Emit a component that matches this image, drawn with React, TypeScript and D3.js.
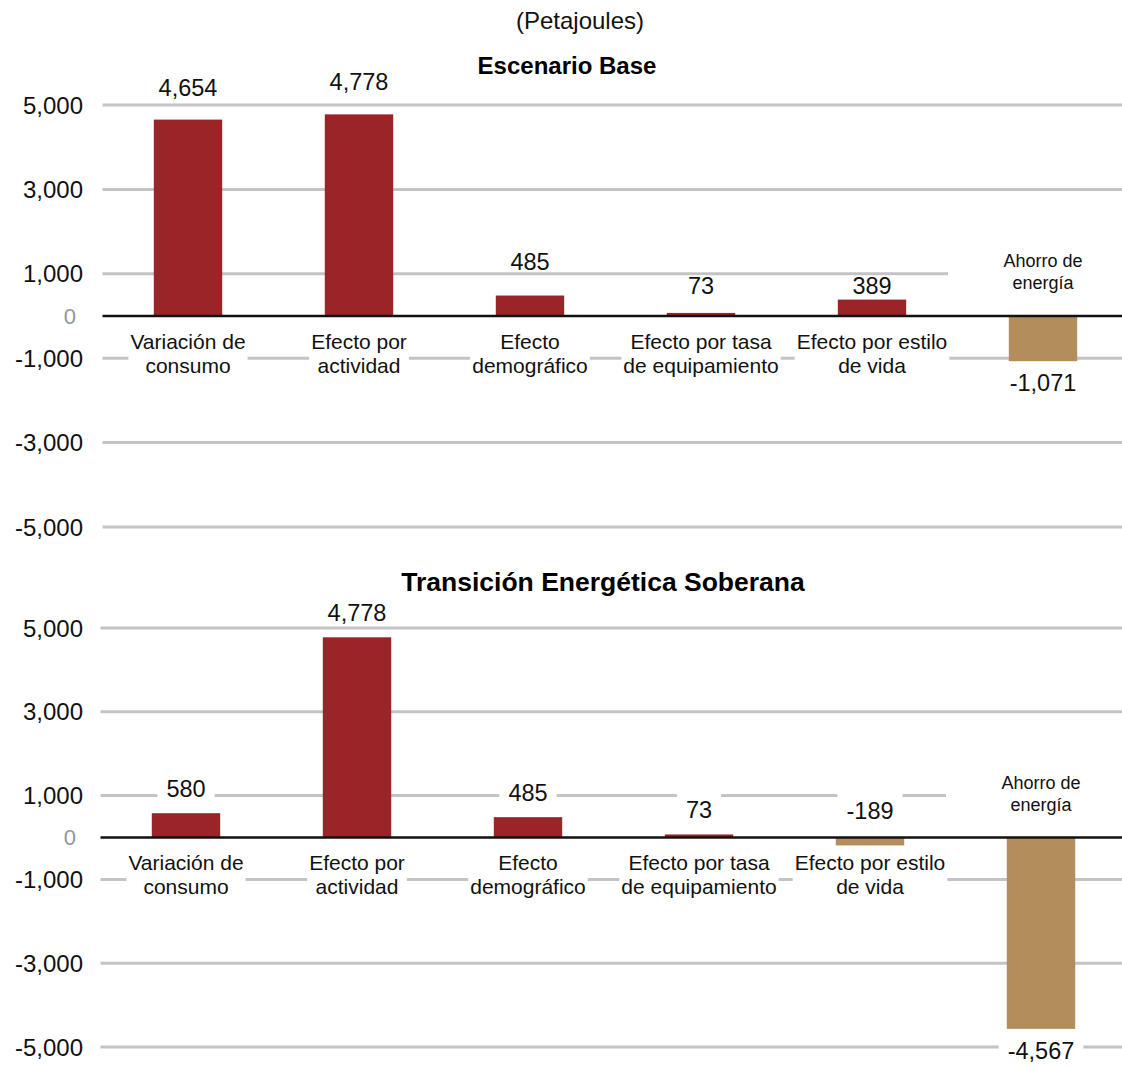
import { useEffect, useRef } from "react";
import * as d3 from "d3";

const categories = [
  "Variación de consumo",
  "Efecto por actividad",
  "Efecto demográfico",
  "Efecto por tasa de equipamiento",
  "Efecto por estilo de vida",
  "Ahorro de energía",
];
const categoryLines = [
  ["Variación de", "consumo"],
  ["Efecto por", "actividad"],
  ["Efecto", "demográfico"],
  ["Efecto por tasa", "de equipamiento"],
  ["Efecto por estilo", "de vida"],
  ["Ahorro de", "energía"],
];
const baseValues = [4654, 4778, 485, 73, 389, -1071];
const tesValues = [580, 4778, 485, 73, -189, -4567];
const yTicks = [5000, 3000, 1000, 0, -1000, -3000, -5000];

const unitLabel = "(Petajoules)";
const baseTitle = "Escenario Base";
const tesTitle = "Transición Energética Soberana";

const W = 1122;
const H = 1067;
const FONT = "'Liberation Sans', Arial, sans-serif";
const RED = "#9a2427";
const TAN = "#b38d5c";
const GRID = "#c4c4c4";

const fmt = d3.formatLocale({
  decimal: ".",
  thousands: ",",
  grouping: [3],
  currency: ["$", ""],
  minus: "-",
}).format(",");

interface PanelSpec {
  values: number[];
  x0: number;
  yTop: number;
  yBottom: number;
  labelGap: number;
  labelBoxes: boolean;
  title: string;
  titleX: number;
  titleY: number;
  titleSize: number;
}

function drawPanel(svg: d3.Selection<SVGSVGElement, unknown, null, undefined>, p: PanelSpec) {
  const g = svg.append("g");
  const x = d3.scaleBand<string>()
    .domain(categories)
    .range([p.x0, p.x0 + 1026])
    .paddingInner(0.6)
    .paddingOuter(0.3);
  const y = d3.scaleLinear().domain([-5000, 5000]).range([p.yBottom, p.yTop]);
  const last = categories.length - 1;
  const gridTicks = yTicks.filter((t) => t !== 0);

  // title
  g.append("text")
    .attr("x", p.titleX)
    .attr("y", p.titleY)
    .attr("text-anchor", "middle")
    .attr("dominant-baseline", "central")
    .style("font-family", FONT)
    .style("font-size", `${p.titleSize}px`)
    .style("font-weight", "bold")
    .style("fill", "#000")
    .text(p.title);

  // gridlines
  g.selectAll("line.grid")
    .data(gridTicks)
    .join("line")
    .attr("class", "grid")
    .attr("x1", p.x0)
    .attr("x2", W)
    .attr("y1", (d) => y(d))
    .attr("y2", (d) => y(d))
    .style("stroke", GRID)
    .style("stroke-width", 3);

  // tick labels
  g.selectAll("text.tick")
    .data(yTicks)
    .join("text")
    .attr("class", "tick")
    .attr("x", (d) => (d === 0 ? 76 : 83))
    .attr("y", (d) => y(d))
    .attr("text-anchor", "end")
    .attr("dominant-baseline", "central")
    .style("font-family", FONT)
    .style("font-size", (d) => (d === 0 ? "22px" : "24px"))
    .style("fill", (d) => (d === 0 ? "#8f96a0" : "#111"))
    .text((d) => fmt(d));

  const zero = y(0);

  // category labels (white boxes break the gridlines)
  const cats = g.selectAll("g.cat")
    .data(categories)
    .join("g")
    .attr("class", "cat")
    .attr("transform", (d, i) => {
      const cx = x(d)! + x.bandwidth() / 2;
      const cy = i === last ? zero - 44 : zero + 37;
      return `translate(${cx},${cy})`;
    });
  cats.each(function (d, i) {
    const c = d3.select(this);
    const lines = categoryLines[i];
    const size = i === last ? 18 : 21;
    const lh = i === last ? 22 : 24;
    const rect = c.append("rect").style("fill", "#fff");
    const t = c.append("text")
      .attr("text-anchor", "middle")
      .style("font-family", FONT)
      .style("font-size", `${size}px`)
      .style("fill", "#111");
    lines.forEach((ln, k) => {
      t.append("tspan")
        .attr("x", 0)
        .attr("y", (k - (lines.length - 1) / 2) * lh)
        .attr("dominant-baseline", "central")
        .text(ln);
    });
    const bb = (t.node() as SVGTextElement).getBBox();
    const wBox = i === last ? 190 : bb.width + 4;
    rect
      .attr("x", -wBox / 2)
      .attr("y", bb.y - 2)
      .attr("width", wBox)
      .attr("height", bb.height + 4);
  });

  // value label positions
  const labelY = (d: number, i: number) => {
    if (d < 0) return i < last ? zero - 27 : y(d) + 22;
    const barTop = y(d);
    let cy = barTop - p.labelGap;
    if (!p.labelBoxes) {
      // no boxes here: keep the label off the gridlines
      for (const t of gridTicks) {
        const gy = y(t);
        if (Math.abs(cy - gy) < 12) {
          cy = gy + 24 < barTop ? gy + 12 : gy - 12;
        }
      }
    }
    return cy;
  };

  const vals = g.selectAll("g.val")
    .data(p.values)
    .join("g")
    .attr("class", "val")
    .attr("transform", (d, i) => {
      const cx = x(categories[i])! + x.bandwidth() / 2;
      return `translate(${cx},${labelY(d, i)})`;
    });
  vals.each(function (d) {
    const c = d3.select(this);
    const rect = c.append("rect").style("fill", "#fff");
    const t = c.append("text")
      .attr("text-anchor", "middle")
      .attr("dominant-baseline", "central")
      .style("font-family", FONT)
      .style("font-size", "23.5px")
      .style("fill", "#111")
      .text(fmt(d));
    if (p.labelBoxes) {
      const bb = (t.node() as SVGTextElement).getBBox();
      rect
        .attr("x", bb.x - 9)
        .attr("y", -17)
        .attr("width", bb.width + 18)
        .attr("height", 29);
    } else {
      rect.remove();
    }
  });

  // bars
  g.selectAll("rect.bar")
    .data(p.values)
    .join("rect")
    .attr("class", "bar")
    .attr("x", (d, i) => x(categories[i])!)
    .attr("width", x.bandwidth())
    .attr("y", (d) => Math.min(y(d), zero))
    .attr("height", (d) => Math.abs(y(d) - zero))
    .style("fill", (d) => (d >= 0 ? RED : TAN));

  // zero line
  g.append("line")
    .attr("x1", p.x0)
    .attr("x2", W)
    .attr("y1", zero)
    .attr("y2", zero)
    .style("stroke", "#111")
    .style("stroke-width", 2.5);

  vals.raise();
}

export default function App() {
  const svgRef = useRef<SVGSVGElement>(null);

  useEffect(() => {
    if (!svgRef.current) return;
    const svg = d3.select(svgRef.current);
    svg.selectAll("*").remove();

    svg.append("rect").attr("width", W).attr("height", H).style("fill", "#fff");

    svg.append("text")
      .attr("x", 580)
      .attr("y", 20)
      .attr("text-anchor", "middle")
      .attr("dominant-baseline", "central")
      .style("font-family", FONT)
      .style("font-size", "24px")
      .style("fill", "#111")
      .text(unitLabel);

    drawPanel(svg, {
      values: baseValues,
      x0: 102.5,
      yTop: 105,
      yBottom: 527,
      labelGap: 32,
      labelBoxes: false,
      title: baseTitle,
      titleX: 567,
      titleY: 65,
      titleSize: 24,
    });
    drawPanel(svg, {
      values: tesValues,
      x0: 100.5,
      yTop: 628,
      yBottom: 1047,
      labelGap: 24,
      labelBoxes: true,
      title: tesTitle,
      titleX: 603,
      titleY: 582,
      titleSize: 26.5,
    });
  }, []);

  return (
    <svg
      ref={svgRef}
      width={W}
      height={H}
      style={{ position: "absolute", left: 0, top: 0, display: "block" }}
    />
  );
}
